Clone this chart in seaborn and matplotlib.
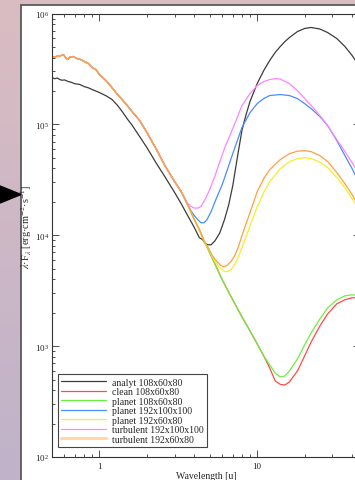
import matplotlib
matplotlib.use("Agg")
import matplotlib.pyplot as plt
from matplotlib.lines import Line2D
from matplotlib.patches import Rectangle, Polygon
from matplotlib.ticker import LogLocator, NullFormatter, FuncFormatter
import numpy as np
import pandas as pd
import seaborn as sns

sns.set_style("ticks")
plt.rcParams["font.family"] = ["Liberation Serif", "DejaVu Serif"]
plt.rcParams["mathtext.fontset"] = "stix"

models = ["analyt 108x60x80", "clean 108x60x80", "planet 108x60x80",
          "planet 192x100x100", "planet 192x60x80",
          "turbulent 192x100x100", "turbulent 192x60x80"]
colors = ["#3c3c3c", "#ff4a4a", "#6cf040", "#4a8cff", "#f4ee2c", "#ff84ff", "#ffa040"]

# wavelength in micron, flux as log10(lambda*F_lambda)
analyt_wl = [0.50, 0.52, 0.54, 0.56, 0.58, 0.60, 0.63, 0.66, 0.70, 0.75,
             0.80, 0.85, 0.90, 1.0, 1.1, 1.2, 1.3, 1.4, 1.5, 1.6,
             1.8, 2.0, 2.3, 2.6, 3.0, 3.3, 3.6, 4.0, 4.3, 4.5,
             4.7, 4.9, 5.1, 5.4, 5.8, 6.2, 6.6, 7.0, 7.5, 8.0,
             8.5, 9.0, 10, 11, 12, 13, 14, 15, 16, 18,
             20, 22, 25, 28, 32, 36, 40, 45]
analyt_logf = [5.422, 5.412, 5.418, 5.404, 5.398, 5.401, 5.388, 5.380, 5.366, 5.360,
               5.341, 5.330, 5.314, 5.287, 5.258, 5.225, 5.172, 5.112, 5.050, 4.998,
               4.889, 4.790, 4.646, 4.528, 4.384, 4.284, 4.185, 4.068, 3.977, 3.962,
               3.923, 3.914, 3.914, 3.950, 4.023, 4.140, 4.275, 4.447, 4.709, 4.944,
               5.088, 5.205, 5.368, 5.485, 5.576, 5.648, 5.702, 5.747, 5.783, 5.837,
               5.865, 5.874, 5.860, 5.828, 5.774, 5.702, 5.621, 5.512]

# the simulated models lie on top of each other at short wavelength
common_wl = np.array([0.50, 0.53, 0.56, 0.59, 0.61, 0.63, 0.65, 0.68, 0.72, 0.76,
                      0.80, 0.85, 0.90, 0.95, 1.0, 1.1, 1.2, 1.3, 1.4, 1.5,
                      1.6, 1.8, 2.0, 2.3, 2.6, 3.0, 3.3, 3.6, 4.0, 4.3, 4.6])
common_logf = np.array([5.603, 5.612, 5.616, 5.630, 5.603, 5.585, 5.607, 5.612, 5.594, 5.585,
                        5.567, 5.549, 5.512, 5.494, 5.449, 5.395, 5.332, 5.27, 5.22, 5.17,
                        5.12, 5.034, 4.926, 4.772, 4.628, 4.483, 4.393, 4.284, 4.140, 4.050, 3.950])

pink_wl = [3.4, 3.6, 3.8, 4.0, 4.2, 4.4, 4.7, 5.0, 5.4, 5.8, 6.3, 7.0, 8.0, 9.0, 10,
           11, 12, 13, 14, 16, 18, 20, 22, 25, 28, 32, 36, 40, 45]
pink_logf = [4.357, 4.293, 4.26, 4.245, 4.245, 4.26, 4.330, 4.411, 4.537, 4.664, 4.808,
             4.962, 5.169, 5.278, 5.350, 5.386, 5.404, 5.413, 5.409, 5.368, 5.305,
             5.233, 5.169, 5.079, 4.989, 4.862, 4.754, 4.655, 4.537]

blue_wl = [3.8, 4.0, 4.2, 4.4, 4.6, 4.8, 5.1, 5.5, 6.0, 6.5, 7.0, 8.0, 9.0, 10,
           11, 12, 14, 16, 18, 20, 22, 25, 28, 32, 36, 40, 45]
blue_logf = [4.221, 4.176, 4.140, 4.113, 4.113, 4.140, 4.212, 4.330, 4.456, 4.600,
             4.736, 4.971, 5.106, 5.187, 5.233, 5.260, 5.269, 5.260, 5.233, 5.187,
             5.142, 5.070, 4.989, 4.853, 4.718, 4.600, 4.456]

bump_wl = [4.9, 5.2, 5.5, 5.8, 6.1, 6.4, 6.8, 7.2, 7.6, 8.0, 8.5, 9.0, 10,
           11, 12, 14, 16, 18, 20, 22, 25, 28, 32, 36, 40, 45]
orange_logf = [3.887, 3.815, 3.770, 3.734, 3.716, 3.725, 3.761, 3.815, 3.896, 3.995,
               4.104, 4.203, 4.393, 4.510, 4.591, 4.682, 4.736, 4.758, 4.763, 4.754,
               4.718, 4.664, 4.564, 4.465, 4.366, 4.248]
yellow_logf = [3.878, 3.806, 3.747, 3.707, 3.680, 3.670, 3.689, 3.734, 3.806, 3.887,
               3.986, 4.086, 4.257, 4.384, 4.483, 4.600, 4.664, 4.691, 4.700, 4.691,
               4.659, 4.610, 4.519, 4.429, 4.330, 4.221]

dip_wl = [4.9, 5.5, 6.0, 7.0, 8.0, 9.0, 10, 11]
dip_logf = [3.869, 3.716, 3.598, 3.418, 3.264, 3.138, 3.020, 2.912]
tail_wl = [12, 13, 14, 15, 16, 18, 20, 22, 25, 28, 32, 36, 40, 45]
green_logf = [2.831, 2.758, 2.722, 2.731, 2.776, 2.885, 3.011, 3.120, 3.246, 3.345,
              3.418, 3.454, 3.463, 3.454]
red_logf = [2.804, 2.686, 2.655, 2.650, 2.677, 2.776, 2.912, 3.038, 3.183, 3.291,
            3.382, 3.418, 3.436, 3.436]


def branch(upto, wl, logf):
    keep = common_wl <= upto
    return np.r_[common_wl[keep], wl], np.r_[common_logf[keep], logf]


series = {
    models[0]: (np.array(analyt_wl), np.array(analyt_logf)),
    models[1]: branch(4.6, dip_wl + tail_wl, dip_logf + red_logf),
    models[2]: branch(4.6, dip_wl + tail_wl, dip_logf + green_logf),
    models[3]: branch(3.6, blue_wl, blue_logf),
    models[4]: branch(4.6, bump_wl, yellow_logf),
    models[5]: branch(3.3, pink_wl, pink_logf),
    models[6]: branch(4.6, bump_wl, orange_logf),
}

rows = []
for name, (wl, lf) in series.items():
    for w, f in zip(wl, lf):
        rows.append({"model": name, "wavelength": w, "flux": 10 ** f})
df = pd.DataFrame(rows)

W, H = 355, 481
fig = plt.figure(figsize=(W / 100, H / 100), dpi=100)

# screenshot background, window panel and the arrow on the left
bg = fig.add_axes([0, 0, 1, 1])
grad = np.linspace(0, 1, 256)[:, None, None]
top = np.array([0.855, 0.740, 0.760])
bot = np.array([0.750, 0.700, 0.790])
bg.imshow(top * (1 - grad) + bot * grad, aspect="auto", extent=[0, 1, 0, 1])
bg.add_patch(Rectangle((21 / W, -0.01), 1, 1 - 6 / H + 0.01, facecolor="white",
                       edgecolor="#5a5a5a", lw=1.3))
bg.add_patch(Polygon([(0, 1 - 187 / H), (0, 1 - 204 / H), (21 / W, 1 - 195.5 / H)],
                     closed=True, color="black"))
bg.set_xlim(0, 1)
bg.set_ylim(0, 1)
bg.axis("off")

ax = fig.add_axes([52 / W, 1 - 458 / H, 308.2 / W, 443.5 / H])
ax.set_facecolor("white")
sns.lineplot(data=df, x="wavelength", y="flux", hue="model", hue_order=models,
             palette=dict(zip(models, colors)), estimator=None, sort=False,
             linewidth=0.9, legend=False, ax=ax)
ax.set_xscale("log")
ax.set_yscale("log")
ax.set_xlim(0.5, 45)
ax.set_ylim(1e2, 1e6)

ax.xaxis.set_major_formatter(FuncFormatter(lambda v, p: f"{v:g}"))
ax.xaxis.set_minor_formatter(NullFormatter())
ax.yaxis.set_minor_locator(LogLocator(base=10, subs=np.arange(2, 10)))
ax.yaxis.set_minor_formatter(NullFormatter())
ax.tick_params(which="both", direction="in", top=True, right=True,
               color="#333333", width=0.6, labelsize=6.5)
ax.tick_params(axis="y", pad=2)
ax.tick_params(axis="x", pad=3.5)
ax.tick_params(which="major", length=5)
ax.tick_params(which="minor", length=2.5)
for s in ax.spines.values():
    s.set_color("#333333")
    s.set_linewidth(0.8)

ax.set_xlabel("Wavelength [u]", fontsize=7, labelpad=0.5)
ax.set_ylabel(r"$\lambda$·F$_\lambda$ [erg·cm$^{-2}$·s$^{-1}$]", fontsize=7.5)
ax.yaxis.set_label_coords(-18 / 308.2, 0.52)

handles = [Line2D([], [], color=c, lw=0.9) for c in colors[:-1]]
handles.append(Line2D([], [], color="#ffd8a6", lw=2.2))
leg = ax.legend(handles, models, loc="lower left",
                bbox_to_anchor=(6 / 308.2, 10 / 443.5), borderaxespad=0,
                frameon=True, fancybox=False, fontsize=7, handlelength=4.6,
                handletextpad=0.6, labelspacing=0.05, borderpad=0.35)
leg.get_frame().set_edgecolor("#444444")
leg.get_frame().set_linewidth(0.8)
leg.get_frame().set_alpha(1)

fig.savefig("out.png", dpi=100)
